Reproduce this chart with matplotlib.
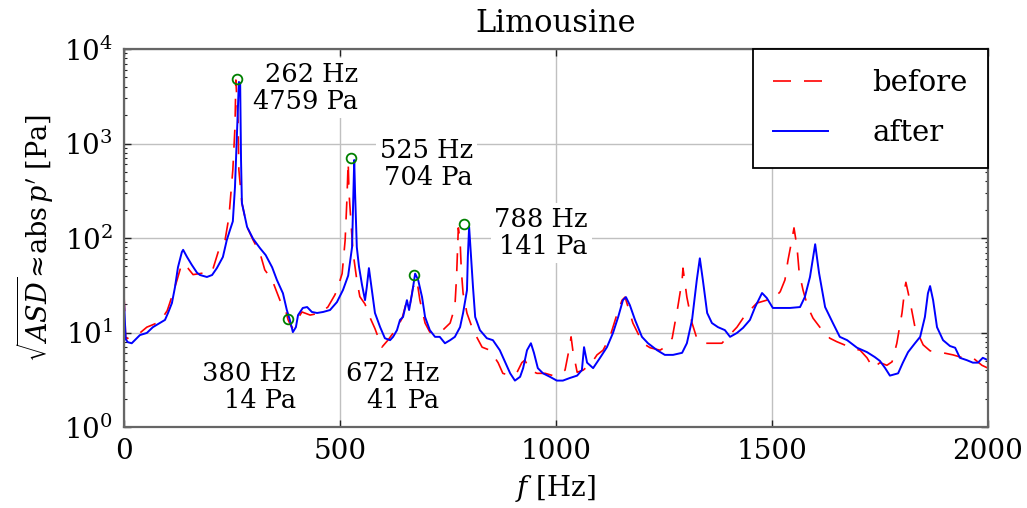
import matplotlib
matplotlib.use("Agg")
import matplotlib.pyplot as plt
import numpy as np

plt.rcParams['font.family'] = ['DejaVu Serif']
plt.rcParams['mathtext.fontset'] = 'dejavuserif'

# Spectrum before the modification (frequency in Hz, amplitude in Pa)
f_before = [0, 4, 9, 18, 37, 53, 65, 83, 100, 106, 123, 134, 148, 160, 183, 204, 218, 234, 243,
            252, 257, 259, 264, 266, 273, 285, 299, 315, 326, 343, 361, 373, 380, 389, 396, 412,
            431, 454, 472, 488, 493, 505, 512, 516, 519, 521, 525, 530, 539, 546, 558, 569, 581,
            597, 611, 632, 644, 655, 662, 669, 678, 685, 697, 708, 725, 738, 755, 766, 770, 774,
            778, 781, 785, 794, 808, 829, 847, 866, 877, 894, 910, 921, 928, 940, 956, 975, 993,
            1009, 1021, 1030, 1035, 1039, 1049, 1063, 1083, 1095, 1109, 1125, 1141, 1153, 1160,
            1167, 1178, 1201, 1218, 1241, 1252, 1269, 1282, 1292, 1294, 1303, 1315, 1326, 1340,
            1363, 1384, 1398, 1419, 1438, 1454, 1465, 1488, 1507, 1519, 1530, 1537, 1546, 1551,
            1558, 1563, 1572, 1583, 1595, 1618, 1634, 1650, 1674, 1692, 1704, 1720, 1734, 1750,
            1766, 1778, 1789, 1801, 1808, 1810, 1819, 1831, 1850, 1866, 1896, 1919, 1942, 1965,
            1986, 2000]
p_before = [26, 8.5, 8.7, 9.0, 9.9, 11.4, 12.0, 13.0, 17.0, 20.5, 36, 54, 48, 41, 42.6, 44, 71,
            95, 167, 525, 1496, 4700, 1774, 525, 235, 131, 95, 69, 46, 36, 22, 18, 13.6, 11.2,
            12.6, 16.5, 15.3, 16.1, 18.6, 24.9, 28, 42, 95, 250, 637, 300, 160, 72, 36, 24, 20,
            14.6, 11.0, 7.0, 8.3, 11.2, 14.2, 22, 19.5, 30, 36, 22, 12.6, 10.1, 9.9, 10.6, 12.6,
            18.6, 40, 128, 95, 45, 26, 16, 10.6, 7.0, 6.5, 4.8, 3.7, 3.5, 3.8, 4.8, 5.1, 4.0, 3.7,
            3.7, 3.5, 3.7, 4.0, 6.5, 9.0, 6.5, 3.8, 4.0, 4.8, 5.8, 6.5, 9.0, 15.5, 22, 23.7, 18.6,
            12.6, 7.7, 6.9, 6.5, 7.0, 8.7, 18.6, 35.9, 48, 23.7, 12.6, 8.7, 7.7, 7.7, 7.7, 9.0,
            11.4, 15.3, 18.2, 20.5, 22, 23.7, 27, 36, 58, 95, 128, 80, 43, 28, 18.6, 14.2, 10.3,
            8.7, 8.0, 7.2, 6.7, 6.5, 5.4, 4.2, 4.8, 4.5, 4.9, 7.7, 16.1, 30.3, 34, 22, 11.4, 7.4,
            6.4, 6.1, 5.8, 5.4, 5.4, 4.5, 4.2]

# Spectrum after the modification
f_after = [0, 4, 9, 18, 37, 53, 67, 83, 95, 102, 111, 118, 125, 134, 137, 146, 157, 169, 176, 192,
           204, 215, 229, 238, 245, 252, 257, 262, 266, 269, 271, 273, 285, 299, 315, 328, 343,
           354, 368, 377, 384, 391, 398, 403, 414, 424, 435, 447, 461, 477, 493, 507, 519, 528,
           530, 533, 535, 537, 539, 544, 551, 558, 562, 567, 574, 581, 593, 604, 616, 623, 632,
           639, 646, 655, 660, 667, 674, 681, 690, 697, 708, 720, 731, 743, 755, 766, 778, 785,
           794, 796, 799, 801, 806, 808, 813, 824, 840, 854, 870, 882, 894, 905, 917, 924, 933,
           942, 949, 958, 970, 986, 1002, 1016, 1032, 1049, 1060, 1065, 1072, 1086, 1102, 1118,
           1132, 1144, 1155, 1162, 1171, 1183, 1199, 1213, 1234, 1252, 1271, 1292, 1303, 1315,
           1326, 1333, 1340, 1350, 1361, 1375, 1391, 1403, 1419, 1433, 1449, 1461, 1477, 1488,
           1502, 1519, 1542, 1565, 1576, 1588, 1600, 1609, 1623, 1641, 1657, 1674, 1697, 1720,
           1738, 1750, 1762, 1773, 1792, 1803, 1815, 1831, 1843, 1854, 1861, 1866, 1873, 1882,
           1896, 1912, 1924, 1935, 1951, 1965, 1977, 1988, 2000]
p_after = [22, 8.5, 7.9, 7.7, 9.4, 9.9, 11.4, 12.6, 13.6, 16.1, 20.5, 30, 49, 71, 75, 63, 52, 43,
           40.6, 38.7, 40.6, 48, 63, 95, 120, 150, 347, 1496, 4477, 4365, 669, 235, 131, 98, 78,
           66, 49, 36, 26, 17.3, 13.6, 10.1, 11.4, 15.3, 18.2, 18.6, 16.5, 16.1, 16.5, 17.3, 21,
           28.2, 40, 80, 184, 669, 300, 150, 80, 50, 32, 22, 30, 48, 28, 16.1, 11.4, 8.7, 8.3,
           9.0, 10.6, 13.6, 14.6, 22, 17.3, 26, 42, 36, 23.7, 14.6, 10.6, 9.0, 9.0, 7.7, 8.3,
           9.0, 11.4, 16.1, 28, 63, 131, 95, 42.6, 30, 14.6, 10.6, 8.7, 8.3, 6.5, 4.9, 3.7, 3.1,
           3.4, 4.2, 6.5, 7.7, 6.1, 4.2, 3.7, 3.4, 3.1, 3.1, 3.3, 3.5, 4.0, 7.0, 4.8, 4.2, 5.4,
           7.0, 9.9, 14.6, 22, 23.7, 19.5, 13.6, 9.0, 7.7, 6.5, 5.8, 5.8, 6.1, 7.7, 13.6, 36, 61,
           36, 16.1, 12.6, 11.4, 10.6, 9.0, 9.9, 11.2, 13.6, 18.6, 26.2, 23.2, 18.2, 18.2, 18.2,
           18.6, 23.7, 38.7, 86, 42.6, 18.6, 12.6, 9.0, 8.3, 6.9, 6.2, 5.5, 5.0, 4.2, 3.5, 3.7,
           4.8, 6.2, 7.7, 9.0, 14.6, 26, 31, 22, 11.4, 8.3, 7.2, 6.9, 5.4, 5.1, 4.8, 4.8, 5.4, 5.1]

# Marked peaks and their labels
peak_f = [262, 380, 525, 672, 788]
peak_p = [4759, 14, 704, 41, 141]
label_f = [542, 398, 808, 729, 1074]
label_p = [3866, 2.65, 607, 2.65, 113]

fig = plt.figure(figsize=(10.27, 5.08), dpi=100)
ax = fig.add_axes([0.1207, 0.1594, 0.8413, 0.7441])

ax.plot(f_before, p_before, color='#ff0000', lw=1.2, dashes=(10.8, 7.8), label='before', zorder=2)
ax.plot(f_after, p_after, color='#0000ff', lw=1.4, label='after', zorder=2.2)
ax.plot(peak_f, peak_p, 'o', mfc='none', mec='#008000', ms=7, mew=1.3, zorder=3, label='_nolegend_')

for fx, px, lx, lp in zip(peak_f, peak_p, label_f, label_p):
    ax.text(lx, lp, f"{fx} Hz\n{px} Pa", ha='right', va='center', multialignment='right',
            fontsize=18.5, linespacing=1.1, zorder=2.8,
            bbox=dict(facecolor='white', edgecolor='none', pad=2.5))

ax.set_yscale('log')
ax.set_xlim(0, 2000)
ax.set_ylim(1, 1e4)
ax.set_xticks([0, 500, 1000, 1500, 2000])
ax.grid(True, which='major', color='#c0c0c0', lw=1.0)
ax.tick_params(which='both', direction='in', top=True, right=True, colors='#222222',
               labelsize=20, labelcolor='black')
ax.tick_params(which='major', length=5, width=1.0)
ax.tick_params(which='minor', length=2.5, width=0.8)
ax.tick_params(axis='x', which='minor', bottom=False, top=False)
ax.tick_params(axis='x', pad=8)
ax.tick_params(axis='y', pad=8)
for s in ax.spines.values():
    s.set_color('#666666')
    s.set_linewidth(1.6)

ax.set_title('Limousine', fontsize=22, pad=12)
ax.set_xlabel(r'$f$ [Hz]', fontsize=20, labelpad=6)
ax.set_ylabel(r"$\sqrt{ASD}\!\approx\!\mathrm{abs}\,p'$ [Pa]", fontsize=19.5, labelpad=6)

leg = ax.legend(loc='upper right', borderaxespad=0, fancybox=False, edgecolor='black',
                framealpha=1, fontsize=21, borderpad=0.7, handlelength=1.9,
                handletextpad=1.5, labelspacing=0.75)
leg.get_frame().set_linewidth(1.3)

fig.savefig('out.png', dpi=100)
